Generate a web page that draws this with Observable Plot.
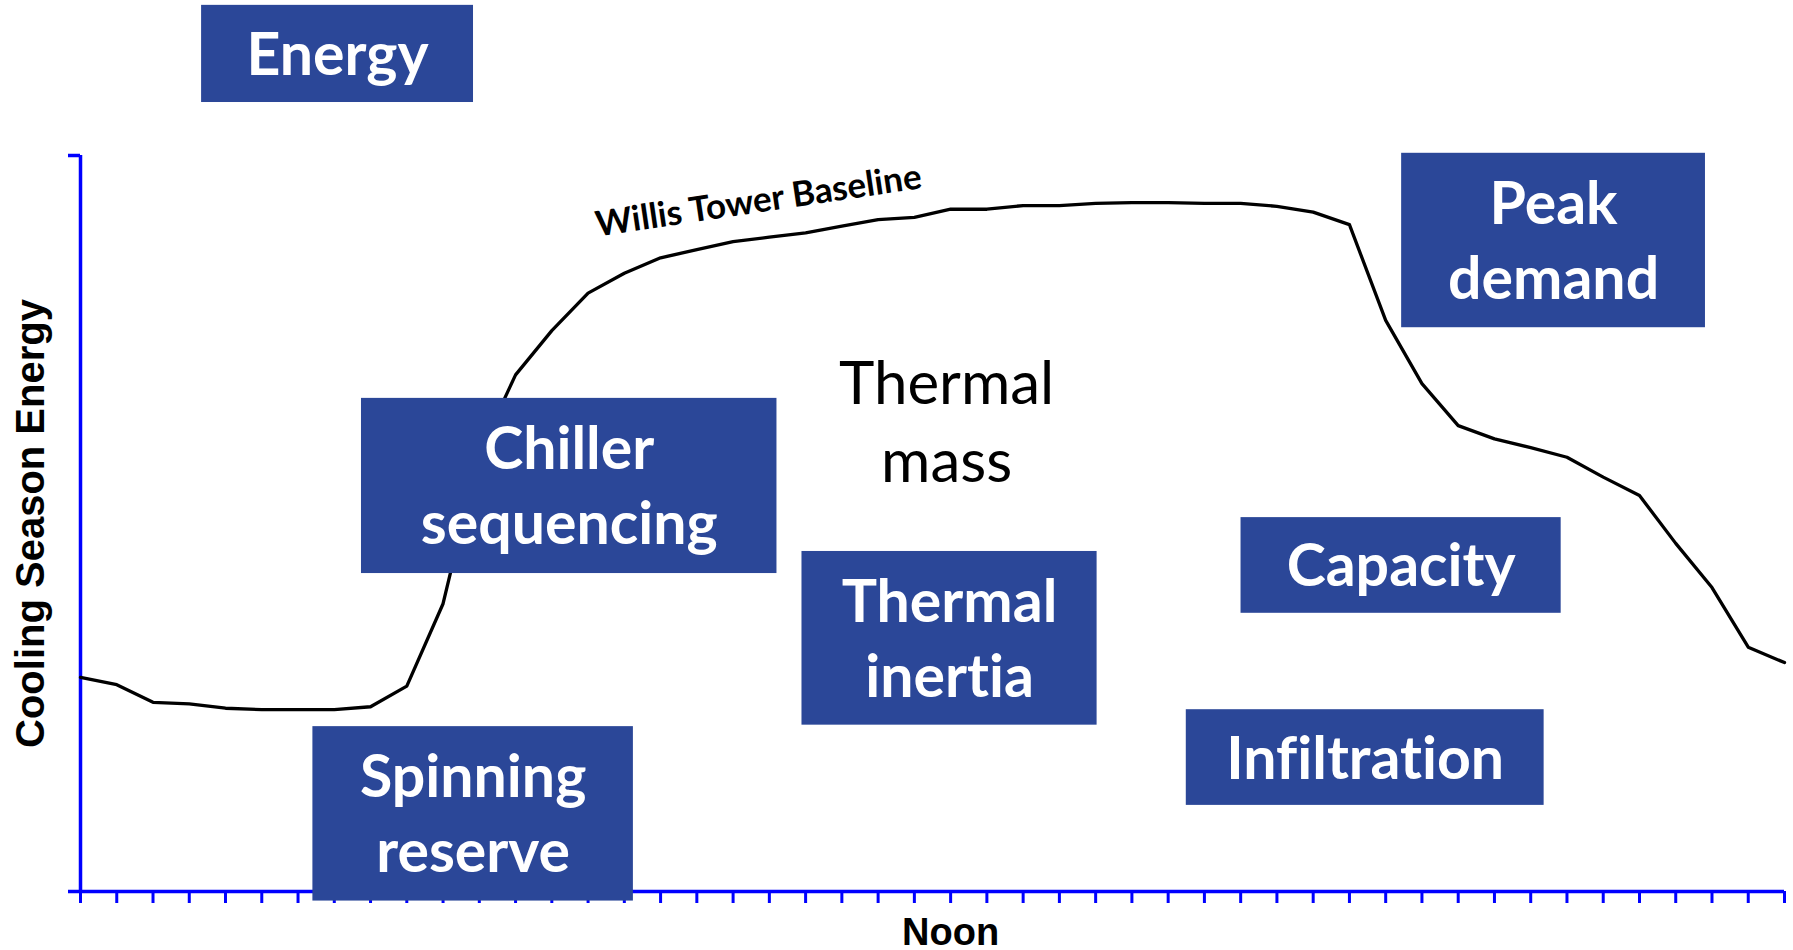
<!DOCTYPE html>
<html>
<head>
<meta charset="utf-8">
<script src="https://cdn.jsdelivr.net/npm/d3@7"></script>
<script src="https://cdn.jsdelivr.net/npm/@observablehq/plot@0.6"></script>
<style>
  html, body { margin: 0; padding: 0; background: #fff; overflow: hidden; }
  #chart svg { display: block; }
  #chart text { font-variant-ligatures: none; font-feature-settings: "liga" 0, "clig" 0; }
</style>
</head>
<body>
<div id="chart"></div>
<script>
// ---- Data ----
// 48 half-hour slots across the day (slot 24 = noon)
const slots = d3.range(48);
// Willis Tower baseline cooling-season energy (relative units, 0–100)
const baselineValues = [
  29.1, 28.1, 25.7, 25.5, 24.9, 24.7, 24.7, 24.7, 25.1, 27.9,
  39.1, 59.6, 70.2, 76.2, 81.3, 84.0, 86.1, 87.2, 88.3, 88.9,
  89.5, 90.4, 91.3, 91.6, 92.7, 92.7, 93.2, 93.2, 93.5, 93.6,
  93.6, 93.5, 93.5, 93.1, 92.3, 90.6, 77.6, 69.0, 63.3, 61.5,
  60.3, 59.0, 56.3, 53.8, 47.3, 41.3, 33.2, 31.1
];
const xTickLabels = ["Noon"];
const xTickSlots = [24];
const yAxisTitle = "Cooling Season Energy";
const curveLabel = "Willis Tower Baseline";
const centerLabel = "Thermal\nmass";

// Annotation boxes (labels), and their extents in data units (slot, value)
const boxLabels = ["Energy", "Peak\ndemand", "Chiller\nsequencing", "Thermal\ninertia", "Capacity", "Infiltration", "Spinning\nreserve"];
const boxSlotStart = [3.34, 36.44, 7.75, 19.90, 32.01, 30.50, 6.41];
const boxSlotEnd   = [10.84, 44.82, 19.21, 28.04, 40.84, 40.37, 15.25];
const boxValueLow  = [107.2, 76.6, 43.2, 22.6, 37.8, 11.7, -1.3];
const boxValueHigh = [120.4, 100.3, 67.0, 46.2, 50.8, 24.7, 22.4];

// ---- Build tables ----
const series = slots.map((s, i) => ({slot: s, value: baselineValues[i]}));
const boxes = boxLabels.map((label, i) => ({
  label, x1: boxSlotStart[i], x2: boxSlotEnd[i], y1: boxValueLow[i], y2: boxValueHigh[i]
}));
const xLabels = xTickLabels.map((label, i) => ({label, slot: xTickSlots[i]}));

const axisBlue = "#0000ff";
const boxBlue = "#2b4798";
const sansBold = "Liberation Sans, Arial, Helvetica, sans-serif";
const calibriLike = "Lato, Carlito, Calibri, sans-serif";

const chart = Plot.plot({
  width: 1793,
  height: 950,
  marginLeft: 80,
  marginRight: 9,
  marginTop: 155,
  marginBottom: 59,
  x: {domain: [0, 47], axis: null},
  y: {domain: [0, 100], axis: null},
  style: {background: "white", overflow: "visible"},
  marks: [
    // axes
    Plot.ruleX([0], {y1: 0, y2: 100, stroke: axisBlue, strokeWidth: 3.5}),
    Plot.axisY([0, 100], {tickSize: 12, tickFormat: () => "", stroke: axisBlue, strokeWidth: 3.5, label: null}),
    Plot.ruleY([0], {x1: 0, x2: 47, stroke: axisBlue, strokeWidth: 3.5}),
    Plot.axisX(slots, {tickSize: 12, tickFormat: () => "", stroke: axisBlue, strokeWidth: 3, label: null}),
    Plot.text(xLabels, {x: "slot", y: 0, text: "label", dy: 41, fontSize: 38, fontWeight: "bold",
      fontFamily: sansBold, fill: "black", lineAnchor: "middle"}),
    Plot.text([yAxisTitle], {x: 0, y: 50, text: d => d, rotate: -90, dx: -49, fontSize: 40,
      fontWeight: "bold", fontFamily: sansBold, fill: "black", lineAnchor: "middle"}),
    // baseline curve
    Plot.line(series, {x: "slot", y: "value", stroke: "black", strokeWidth: 3.3, strokeLinejoin: "round"}),
    Plot.text([curveLabel], {x: 18.7, y: 93.8, text: d => d, rotate: -8.5, fontSize: 35,
      fontWeight: "bold", fontFamily: calibriLike, fill: "black", lineAnchor: "middle"}),
    // annotation boxes
    Plot.rect(boxes, {x1: "x1", x2: "x2", y1: "y1", y2: "y2", fill: boxBlue}),
    Plot.text(boxes, {x: d => (d.x1 + d.x2) / 2, y: d => (d.y1 + d.y2) / 2, text: "label",
      fill: "white", fontSize: 59, fontWeight: "bold", fontFamily: calibriLike, lineHeight: 1.27,
      lineAnchor: "middle", dy: -3}),
    Plot.text([centerLabel], {x: 23.89, y: 64.3, text: d => d, fill: "black", fontSize: 60,
      fontWeight: "normal", fontFamily: calibriLike, lineHeight: 1.3, lineAnchor: "middle"})
  ]
});
document.getElementById("chart").appendChild(chart);
</script>
</body>
</html>
